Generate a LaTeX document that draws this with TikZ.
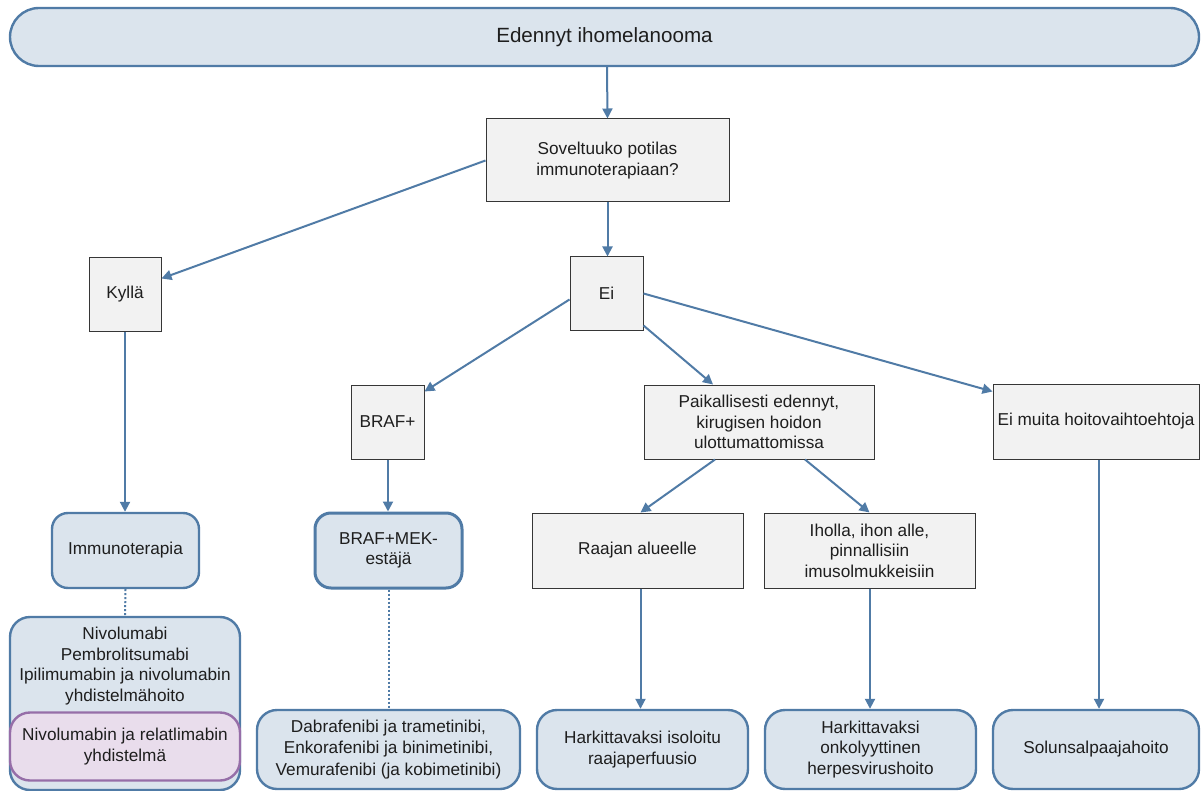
\documentclass[tikz,border=0pt]{standalone}
\usepackage{fontspec}
\setmainfont{Liberation Sans}
\usetikzlibrary{arrows.meta}
\definecolor{bluefill}{RGB}{219,228,237}
\definecolor{bluedraw}{RGB}{80,123,166}
\definecolor{grayfill}{RGB}{242,242,242}
\definecolor{graydraw}{RGB}{54,54,54}
\definecolor{purpfill}{RGB}{233,221,236}
\definecolor{purpdraw}{RGB}{150,110,168}
\definecolor{txt}{RGB}{30,30,30}
\tikzset{
  base/.style={inner sep=0pt, align=center, text=txt,
    font=\fontsize{17.2}{20.6}\selectfont},
  qbox/.style={base, rectangle, draw=graydraw, fill=grayfill, line width=1pt},
  tbox/.style={base, rectangle, rounded corners=16pt, draw=bluedraw, fill=bluefill, line width=2.4pt},
  pbox/.style={base, rectangle, rounded corners=20pt, draw=purpdraw, fill=purpfill, line width=2.4pt},
  wh/.style n args={2}{minimum width=#1pt, minimum height=#2pt},
  flow/.style={draw=bluedraw, line width=2pt, -{Triangle[length=10pt,width=10pt]}},
  link/.style={draw=bluedraw, line width=2pt, dash pattern=on 2pt off 2pt}
}
\begin{document}
\begin{tikzpicture}[x=1pt,y=-1pt]
\useasboundingbox (0,0) rectangle (1201,791);

% top banner
\node[tbox, rounded corners=29pt, wh={1189}{58}, font=\fontsize{20.6}{24}\selectfont] (top) at (604.5,37) {Edennyt ihomelanooma};

% decision row
\node[qbox, wh={243}{83}] (sov) at (607.5,160.5) {Soveltuuko potilas\\immunoterapiaan?};
\node[qbox, wh={72}{73}] (kyl) at (125,294.5) {Kyllä};
\node[qbox, wh={73}{73}] (ei) at (606.5,293.5) {Ei};

% second level
\node[qbox, wh={73}{74}] (braf) at (387.5,422) {BRAF+};
\node[qbox, wh={230}{74}] (paik) at (759,422) {Paikallisesti edennyt,\\kirugisen hoidon\\ulottumattomissa};
\node[qbox, wh={206}{75}] (eim) at (1096,421.5) {Ei muita hoitovaihtoehtoja};

% treatment row
\node[tbox, wh={147}{75}] (imm) at (125.5,550.5) {Immunoterapia};
\node[tbox, wh={147}{75}, line width=3pt] (bmek) at (388.5,550.5) {BRAF+MEK-\\estäjä};
\node[qbox, wh={211}{75}] (raa) at (637.5,550.5) {Raajan alueelle};
\node[qbox, wh={211}{75}] (iho) at (869.5,550.5) {Iholla, ihon alle,\\pinnallisiin\\imusolmukkeisiin};

% drug lists and final options
\node[tbox, rounded corners=20pt, wh={230}{173}] (niv) at (125,703.5) {};
\node[base] (nivtxt) at (125,666) {Nivolumabi\\Pembrolitsumabi\\Ipilimumabin ja nivolumabin\\yhdistelmähoito};
\node[pbox, wh={230}{68}] (rel) at (125,746.5) {Nivolumabin ja relatlimabin\\yhdistelmä};
\node[tbox, rounded corners=20pt, wh={263}{79}, font=\fontsize{17.2}{21.5}\selectfont] (dab) at (388.5,749.5) {Dabrafenibi ja trametinibi,\\Enkorafenibi ja binimetinibi,\\Vemurafenibi (ja kobimetinibi)};
\node[tbox, rounded corners=20pt, wh={211}{79}] (har1) at (642.5,749.5) {Harkittavaksi isoloitu\\raajaperfuusio};
\node[tbox, rounded corners=20pt, wh={211}{79}] (har2) at (870.5,749.5) {Harkittavaksi\\onkolyyttinen\\herpesvirushoito};
\node[tbox, rounded corners=20pt, wh={206}{79}] (sol) at (1096,749.5) {Solunsalpaajahoito};

% connectors
\draw[flow] ([xshift=2.5pt]top.south) -- (sov.north);
\draw[flow] (sov.south) -- ([xshift=1pt]ei.north);
\draw[flow] (sov.west) -- ([yshift=16pt]kyl.east);
\draw[flow] ([yshift=-6pt]ei.west) -- ([yshift=-7pt]braf.north east);
\draw[flow] ([yshift=5pt]ei.south east) -- ([xshift=-46pt]paik.north);
\draw[flow] (ei.east) -- ([yshift=-8pt]eim.north west);
\draw[flow] (kyl.south) -- ([xshift=-0.5pt]imm.north);
\draw[flow] ([xshift=0.5pt]braf.south) -- ([xshift=-0.5pt]bmek.north);
\draw[flow] ([xshift=-44pt]paik.south) -- ([xshift=3pt]raa.north);
\draw[flow] ([xshift=46pt]paik.south) -- (iho.north);
\draw[flow] ([xshift=3pt]raa.south) -- ([xshift=-2pt]har1.north);
\draw[flow] ([xshift=0.5pt]iho.south) -- ([xshift=-0.5pt]har2.north);
\draw[flow] ([xshift=3pt]eim.south) -- ([xshift=3pt]sol.north);
\draw[link] (imm.south) -- (niv.north);
\draw[link] (bmek.south) -- (dab.north);
\end{tikzpicture}
\end{document}
